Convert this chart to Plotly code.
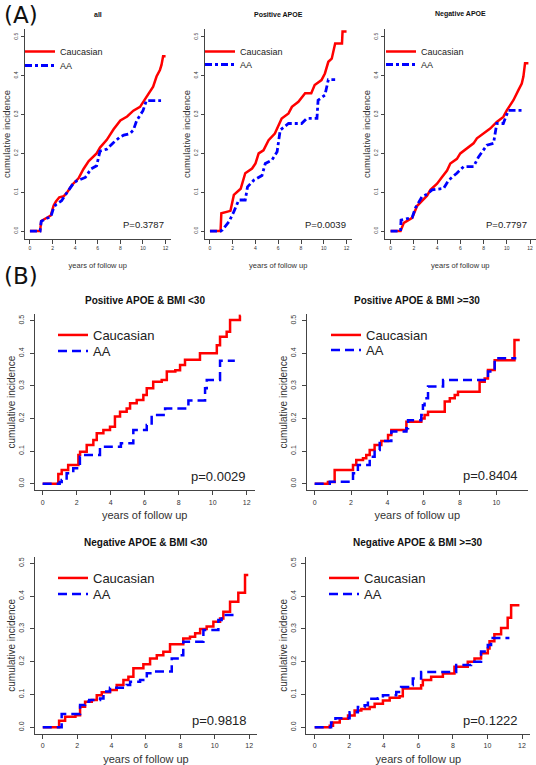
import plotly.graph_objects as go

# ---------------- data ----------------
X_TICKS_12 = [0, 2, 4, 6, 8, 10, 12]
X_TICKS_10 = [0, 2, 4, 6, 8, 10]
Y_TICKS = [0.0, 0.1, 0.2, 0.3, 0.4, 0.5]
GROUPS = ["Caucasian", "AA"]

TITLES = ["all", "Positive APOE", "Negative APOE",
          "Positive APOE & BMI <30", "Positive APOE & BMI >=30",
          "Negative APOE & BMI <30", "Negative APOE & BMI >=30"]
P_VALUES = ["P=0.3787", "P=0.0039", "P=0.7797",
            "p=0.0029", "p=0.8404", "p=0.9818", "p=0.1222"]

# (A) all
a1_t_cau = [0, 0.9, 1.0, 1.5, 1.84, 2.1, 2.3, 2.6, 3.0, 3.3, 3.7, 4.3, 4.74, 5.2, 5.9, 6.2, 6.8, 7.4, 8.0, 8.6, 9.15, 9.74, 10.3, 10.9, 11.2, 11.5, 11.64, 11.78, 12.0]
a1_v_cau = [0, 0, 0.026, 0.035, 0.04, 0.066, 0.076, 0.087, 0.09, 0.1, 0.118, 0.136, 0.16, 0.18, 0.2, 0.215, 0.235, 0.262, 0.285, 0.295, 0.31, 0.32, 0.345, 0.372, 0.398, 0.415, 0.428, 0.45, 0.45]
a1_t_aa = [0, 0.9, 1.0, 1.5, 1.84, 2.1, 2.3, 2.8, 3.3, 3.9, 4.2, 4.9, 5.4, 5.9, 6.2, 6.8, 7.4, 8.0, 8.3, 8.85, 9.15, 9.45, 10.0, 10.3, 11.6]
a1_v_aa = [0, 0, 0.025, 0.033, 0.036, 0.06, 0.068, 0.078, 0.1, 0.125, 0.13, 0.138, 0.16, 0.168, 0.206, 0.211, 0.228, 0.243, 0.247, 0.251, 0.26, 0.285, 0.31, 0.336, 0.336]

# (A) Positive APOE
a2_t_cau = [0, 0.93, 1.0, 1.8, 2.1, 2.25, 2.7, 3.1, 3.7, 4.0, 4.28, 4.7, 5.15, 5.7, 6.0, 6.3, 6.9, 7.2, 7.77, 8.36, 8.9, 9.2, 9.8, 10.1, 10.4, 10.7, 11.0, 11.6, 11.65, 12.0]
a2_v_cau = [0, 0, 0.046, 0.052, 0.093, 0.097, 0.109, 0.149, 0.161, 0.174, 0.2, 0.208, 0.234, 0.251, 0.273, 0.29, 0.303, 0.32, 0.333, 0.355, 0.355, 0.376, 0.389, 0.406, 0.436, 0.444, 0.483, 0.483, 0.514, 0.514]
a2_t_aa = [0, 0.93, 1.1, 1.67, 2.1, 2.53, 2.97, 3.1, 3.3, 3.85, 4.57, 4.86, 5.45, 5.9, 6.17, 6.9, 8.05, 8.5, 9.4, 9.5, 10.1, 10.4, 11.0]
a2_v_aa = [0, 0, 0.003, 0.024, 0.05, 0.08, 0.08, 0.08, 0.114, 0.131, 0.143, 0.174, 0.183, 0.204, 0.26, 0.277, 0.277, 0.29, 0.29, 0.337, 0.35, 0.39, 0.39]

# (A) Negative APOE
a3_t_cau = [0, 0.86, 1.14, 1.86, 2.29, 2.7, 3.14, 3.43, 4.0, 4.43, 4.86, 5.14, 5.71, 6.0, 6.57, 7.14, 7.43, 8.0, 8.57, 9.14, 9.7, 10.0, 10.57, 11.0, 11.29, 11.43, 11.57, 11.86]
a3_v_cau = [0, 0, 0.021, 0.034, 0.065, 0.078, 0.091, 0.106, 0.122, 0.139, 0.156, 0.174, 0.186, 0.2, 0.213, 0.226, 0.239, 0.251, 0.264, 0.281, 0.294, 0.311, 0.337, 0.363, 0.38, 0.398, 0.432, 0.432]
a3_t_aa = [0, 0.86, 0.9, 1.86, 2.14, 2.7, 3.14, 3.57, 4.57, 5.0, 5.7, 6.29, 7.14, 7.57, 8.0, 8.29, 8.86, 9.14, 9.7, 10.14, 11.29]
a3_v_aa = [0, 0, 0.028, 0.035, 0.06, 0.088, 0.095, 0.106, 0.11, 0.131, 0.149, 0.166, 0.166, 0.191, 0.209, 0.221, 0.226, 0.277, 0.277, 0.311, 0.311]

# (B) Positive APOE & BMI <30
b1_t_cau = [0, 0.92, 1.12, 1.5, 2.1, 2.2, 2.59, 2.98, 3.18, 3.57, 3.96, 4.25, 4.55, 4.94, 5.14, 5.53, 5.92, 6.12, 6.5, 7.0, 7.3, 7.8, 8.08, 8.37, 9.25, 10.24, 10.43, 10.82, 11.02, 11.6, 11.65]
b1_v_cau = [0, 0.03, 0.042, 0.057, 0.088, 0.098, 0.119, 0.134, 0.155, 0.165, 0.175, 0.206, 0.221, 0.231, 0.247, 0.257, 0.272, 0.293, 0.313, 0.318, 0.344, 0.348, 0.364, 0.38, 0.4, 0.425, 0.451, 0.466, 0.502, 0.515, 0.515]
b1_t_aa = [0, 1.0, 1.12, 1.41, 1.8, 2.19, 2.25, 3.37, 4.6, 5.33, 6.12, 6.41, 7.2, 8.57, 9.55, 9.65, 10.43, 11.3]
b1_v_aa = [0, 0.005, 0.011, 0.032, 0.047, 0.083, 0.088, 0.113, 0.124, 0.165, 0.18, 0.211, 0.231, 0.255, 0.293, 0.318, 0.377, 0.377]

# (B) Positive APOE & BMI >=30
b2_t_cau = [0, 0.73, 1.1, 2.11, 2.29, 2.66, 2.84, 3.03, 3.3, 3.67, 4.04, 4.22, 5.05, 5.87, 6.05, 6.24, 7.16, 7.44, 7.71, 7.89, 9.08, 9.36, 9.54, 9.91, 11.0, 11.29]
b2_v_cau = [0, 0.005, 0.042, 0.057, 0.073, 0.078, 0.088, 0.103, 0.119, 0.131, 0.149, 0.165, 0.19, 0.2, 0.211, 0.221, 0.252, 0.262, 0.272, 0.282, 0.313, 0.323, 0.349, 0.379, 0.441, 0.441]
b2_t_aa = [0, 0.83, 2.11, 2.38, 3.03, 3.3, 3.58, 4.22, 5.05, 5.14, 5.87, 5.96, 6.05, 6.24, 7.07, 9.54, 9.91, 11.1]
b2_v_aa = [0, 0.006, 0.032, 0.057, 0.083, 0.103, 0.131, 0.16, 0.17, 0.195, 0.211, 0.241, 0.262, 0.298, 0.318, 0.344, 0.385, 0.385]

# (B) Negative APOE & BMI <30
b3_t_cau = [0, 0.95, 1.3, 1.9, 2.17, 2.46, 2.85, 3.14, 3.43, 3.91, 4.3, 4.69, 4.98, 5.27, 5.85, 6.24, 6.63, 7.01, 7.4, 8.17, 8.56, 8.86, 9.15, 9.53, 9.92, 10.31, 10.5, 10.89, 11.37, 11.76, 11.95]
b3_v_cau = [0, 0.02, 0.032, 0.037, 0.063, 0.078, 0.083, 0.098, 0.107, 0.114, 0.129, 0.144, 0.154, 0.18, 0.192, 0.21, 0.22, 0.23, 0.253, 0.271, 0.276, 0.287, 0.3, 0.307, 0.322, 0.332, 0.352, 0.383, 0.41, 0.464, 0.464]
b3_t_aa = [0, 1.1, 2.17, 2.46, 2.7, 3.33, 3.53, 3.91, 4.88, 5.08, 5.66, 6.05, 6.44, 7.5, 7.98, 8.17, 9.34, 10.21, 10.4, 11.28]
b3_v_aa = [0, 0.041, 0.068, 0.078, 0.083, 0.088, 0.109, 0.121, 0.129, 0.139, 0.144, 0.165, 0.17, 0.21, 0.22, 0.261, 0.297, 0.327, 0.342, 0.342]

# (B) Negative APOE & BMI >=30
b4_t_cau = [0, 0.87, 1.06, 1.45, 1.93, 2.31, 2.7, 3.18, 3.47, 3.95, 4.34, 4.91, 5.1, 6.16, 6.26, 6.74, 7.42, 8.09, 8.86, 9.25, 9.63, 10.02, 10.12, 10.4, 10.79, 11.17, 11.37, 11.85]
b4_v_cau = [0, 0.005, 0.015, 0.026, 0.036, 0.051, 0.056, 0.062, 0.072, 0.082, 0.09, 0.095, 0.118, 0.128, 0.144, 0.154, 0.164, 0.185, 0.2, 0.21, 0.226, 0.24, 0.262, 0.284, 0.303, 0.334, 0.372, 0.372]
b4_t_aa = [0, 0.95, 1.2, 2.02, 2.5, 2.89, 3.08, 3.66, 3.95, 4.72, 5.0, 5.49, 5.68, 6.16, 8.19, 9.05, 9.63, 10.02, 10.21, 11.27]
b4_v_aa = [0, 0.015, 0.028, 0.046, 0.062, 0.067, 0.087, 0.089, 0.098, 0.108, 0.123, 0.128, 0.149, 0.169, 0.19, 0.2, 0.231, 0.251, 0.272, 0.272]

# ---------------- layout helpers ----------------
W, H = 536, 765
RED = "#ff0000"
BLUE = "#0000ff"
AXC = "#444444"
FONT = "Liberation Sans, Arial, sans-serif"


def dom_x(left, right):
    return [left / W, right / W]


def dom_y(top, bottom):
    return [1 - bottom / H, 1 - top / H]


panels = [
    dict(t=(a1_t_cau, a1_v_cau, a1_t_aa, a1_v_aa), dx=dom_x(24.5, 171), dy=dom_y(29.2, 238.8),
         xr=[-0.48, 12.48], xt=X_TICKS_12, kind="A", leg=(20, 37, 51), p=(12.05, 0.018), xst=12),
    dict(t=(a2_t_cau, a2_v_cau, a2_t_aa, a2_v_aa), dx=dom_x(204.5, 352), dy=dom_y(29.2, 238.8),
         xr=[-0.48, 12.48], xt=X_TICKS_12, kind="A", leg=(200, 37, 50), p=(12.14, 0.018), xst=12),
    dict(t=(a3_t_cau, a3_v_cau, a3_t_aa, a3_v_aa), dx=dom_x(385, 535.6), dy=dom_y(29.2, 238.8),
         xr=[-0.48, 12.48], xt=X_TICKS_12, kind="A", leg=(381, 37, 50), p=(11.9, 0.018), xst=12),
    dict(t=(b1_t_cau, b1_v_cau, b1_t_aa, b1_v_aa), dx=dom_x(34.5, 254.9), dy=dom_y(314.2, 490.2),
         xr=[-0.48, 12.48], xt=X_TICKS_12, kind="B", leg=(53, 320, 336), p=(12.1, 0.021), xst=6),
    dict(t=(b2_t_cau, b2_v_cau, b2_t_aa, b2_v_aa), dx=dom_x(306.5, 528.1), dy=dom_y(314.2, 490.2),
         xr=[-0.45, 11.75], xt=X_TICKS_10, kind="B", leg=(326, 320, 335), p=(11.3, 0.024), xst=6),
    dict(t=(b3_t_cau, b3_v_cau, b3_t_aa, b3_v_aa), dx=dom_x(34.5, 257.4), dy=dom_y(556.7, 733.9),
         xr=[-0.48, 12.48], xt=X_TICKS_12, kind="B", leg=(53, 563, 579), p=(12.0, 0.022), xst=7),
    dict(t=(b4_t_cau, b4_v_cau, b4_t_aa, b4_v_aa), dx=dom_x(306.4, 530.3), dy=dom_y(556.7, 733.9),
         xr=[-0.48, 12.48], xt=X_TICKS_12, kind="B", leg=(324, 563, 579), p=(11.87, 0.021), xst=7),
]

fig = go.Figure()
layout = dict(
    width=W, height=H, margin=dict(l=0, r=0, t=0, b=0),
    paper_bgcolor="white", plot_bgcolor="white",
    font=dict(family=FONT, color="#222222"),
    annotations=[], showlegend=True,
)


def legend_name(k):
    return "legend" if k == 1 else "legend%d" % k


for i, pn in enumerate(panels):
    n = i + 1
    sfx = "" if n == 1 else str(n)
    xa, ya = "x" + sfx, "y" + sfx
    is_a = pn["kind"] == "A"
    tc, vc, ta, va = pn["t"]
    shape = "linear" if is_a else "hv"
    dash_aa = "7px,3px,3px,3px" if is_a else "9px,5px"
    leg_c, leg_a = legend_name(2 * i + 1), legend_name(2 * i + 2)
    fig.add_trace(go.Scatter(x=tc, y=vc, mode="lines", name=GROUPS[0], xaxis=xa, yaxis=ya,
                             line=dict(color=RED, width=2.5, shape=shape), legend=leg_c))
    fig.add_trace(go.Scatter(x=ta, y=va, mode="lines", name=GROUPS[1], xaxis=xa, yaxis=ya,
                             line=dict(color=BLUE, width=2.8 if is_a else 2.5, shape=shape, dash=dash_aa),
                             legend=leg_a))

    tick_fs = 5 if is_a else 7
    layout["xaxis" + sfx] = dict(
        domain=pn["dx"], anchor=ya, range=pn["xr"], tickvals=pn["xt"],
        ticktext=[str(v) for v in pn["xt"]],
        showline=True, linecolor=AXC, linewidth=1, ticks="outside", ticklen=4,
        ticklabelstandoff=0 if is_a else 1,
        tickcolor=AXC, tickfont=dict(size=tick_fs, family=FONT, color="#333"),
        showgrid=False, zeroline=False,
        title=dict(text="years of follow up",
                   font=dict(size=7.5 if is_a else 11, family=FONT, color="#333"),
                   standoff=pn["xst"]),
    )
    layout["yaxis" + sfx] = dict(
        domain=pn["dy"], anchor=xa, range=[-0.02, 0.52], tickvals=Y_TICKS,
        tickformat=".1f", tickangle=-90,
        showline=True, linecolor=AXC, linewidth=1, ticks="outside", ticklen=3 if is_a else 4,
        ticklabelstandoff=1 if is_a else 3,
        tickcolor=AXC, tickfont=dict(size=tick_fs, family=FONT, color="#333"),
        showgrid=False, zeroline=False,
        title=dict(text="cumulative incidence",
                   font=dict(size=9.5 if is_a else 10, family=FONT, color="#333"),
                   standoff=0),
    )
    lx, ly1, ly2 = pn["leg"]
    for name, ly in ((leg_c, ly1), (leg_a, ly2)):
        layout[name] = dict(
            x=lx / W, y=1 - ly / H, xanchor="left", yanchor="top",
            bgcolor="rgba(0,0,0,0)", borderwidth=0,
            font=dict(size=9 if is_a else 13, family=FONT, color="#222"),
        )
    # panel title
    dx, dy = pn["dx"], pn["dy"]
    title_y = (1 - 14 / H) if is_a else (dy[1] + 14 / H)
    layout["annotations"].append(dict(
        text="<b>%s</b>" % TITLES[i], xref="paper", yref="paper",
        x=(dx[0] + dx[1]) / 2, y=title_y, xanchor="center", yanchor="middle",
        showarrow=False, font=dict(size=7 if is_a else 10, family=FONT, color="#111"),
    ))
    # p-value
    px, py = pn["p"]
    layout["annotations"].append(dict(
        text=P_VALUES[i], xref=xa, yref=ya, x=px, y=py, xanchor="right", yanchor="middle",
        showarrow=False, font=dict(size=9.5 if is_a else 13, family=FONT, color="#222"),
    ))

# panel letters
for lab, ycen in (("(A)", 15), ("(B)", 276)):
    layout["annotations"].append(dict(
        text=lab, xref="paper", yref="paper", x=2 / W, y=1 - ycen / H,
        xanchor="left", yanchor="middle", showarrow=False,
        font=dict(size=23, family="DejaVu Sans, sans-serif", color="#111"),
    ))

fig.update_layout(**layout)
fig.write_html("out.html", config={"displayModeBar": False},
               post_script="document.body.style.margin='0';")
